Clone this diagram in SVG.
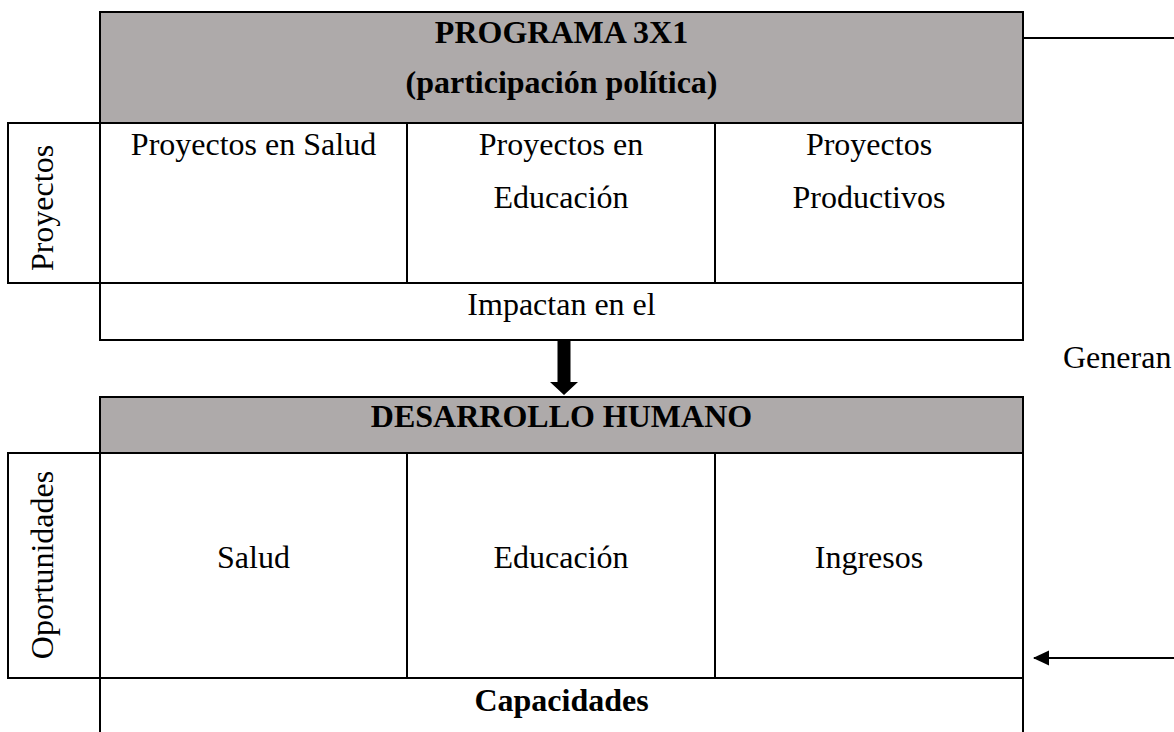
<svg xmlns="http://www.w3.org/2000/svg" width="1174" height="732" viewBox="0 0 1174 732">
  <style>
    .t { font-family: "Liberation Serif", "Times New Roman", serif; font-size: 32px; fill: #000; }
    .c { text-anchor: middle; }
    .b { font-weight: bold; }
    .hdr { fill: #AEAAAA; stroke: #000; stroke-width: 2; }
    .cell { fill: #fff; stroke: #000; stroke-width: 2; }
    .ln { stroke: #000; stroke-width: 2; fill: none; }
  </style>
  <defs>
    <marker id="ah" markerWidth="16" markerHeight="16" refX="15" refY="8" orient="auto" markerUnits="userSpaceOnUse">
      <path d="M16,8 L0,0.5 L0,15.5 Z" fill="#000"/>
    </marker>
  </defs>
  <rect width="1174" height="732" fill="#fff"/>

  <g id="programa-header">
    <rect class="hdr" x="100" y="12" width="923" height="111"/>
    <text class="t c b" x="561.5" y="43">PROGRAMA 3X1</text>
    <text class="t c b" x="561.5" y="93">(participación política)</text>
  </g>
  <g id="proyectos-label">
    <rect class="cell" x="8" y="123" width="92" height="160"/>
    <text class="t c" transform="translate(53,208) rotate(-90)">Proyectos</text>
  </g>
  <g id="proy-salud">
    <rect class="cell" x="100" y="123" width="307" height="160"/>
    <text class="t c" x="253.5" y="155">Proyectos en Salud</text>
  </g>
  <g id="proy-educacion">
    <rect class="cell" x="407" y="123" width="308" height="160"/>
    <text class="t c" x="561" y="155">Proyectos en</text>
    <text class="t c" x="561" y="208">Educación</text>
  </g>
  <g id="proy-productivos">
    <rect class="cell" x="715" y="123" width="308" height="160"/>
    <text class="t c" x="869" y="155">Proyectos</text>
    <text class="t c" x="869" y="208">Productivos</text>
  </g>
  <g id="impactan">
    <rect class="cell" x="100" y="283" width="923" height="57"/>
    <text class="t c" x="561.5" y="315">Impactan en el</text>
  </g>

  <g id="dh-header">
    <rect class="hdr" x="100" y="397" width="923" height="56"/>
    <text class="t c b" x="561.5" y="427">DESARROLLO HUMANO</text>
  </g>
  <g id="oportunidades-label">
    <rect class="cell" x="8" y="453" width="92" height="225"/>
    <text class="t c" transform="translate(53,565) rotate(-90)">Oportunidades</text>
  </g>
  <g id="salud">
    <rect class="cell" x="100" y="453" width="307" height="225"/>
    <text class="t c" x="253.5" y="568">Salud</text>
  </g>
  <g id="educacion">
    <rect class="cell" x="407" y="453" width="308" height="225"/>
    <text class="t c" x="561" y="568">Educación</text>
  </g>
  <g id="ingresos">
    <rect class="cell" x="715" y="453" width="308" height="225"/>
    <text class="t c" x="869" y="568">Ingresos</text>
  </g>
  <g id="capacidades">
    <path class="ln" d="M100,678 V740 M1023,678 V740 M100,678 H1023"/>
    <text class="t c b" x="561.5" y="711">Capacidades</text>
  </g>

  <g id="generan-label">
    <text class="t" x="1063" y="368">Generan</text>
  </g>

  <g id="connectors">
    <polygon points="557.5,339 570.5,339 570.5,382 578,382 564,395 550,382 557.5,382" fill="#000"/>
    <line class="ln" x1="1023" y1="38" x2="1174" y2="38"/>
    <line class="ln" x1="1174" y1="658" x2="1034" y2="658" marker-end="url(#ah)"/>
  </g>
</svg>
